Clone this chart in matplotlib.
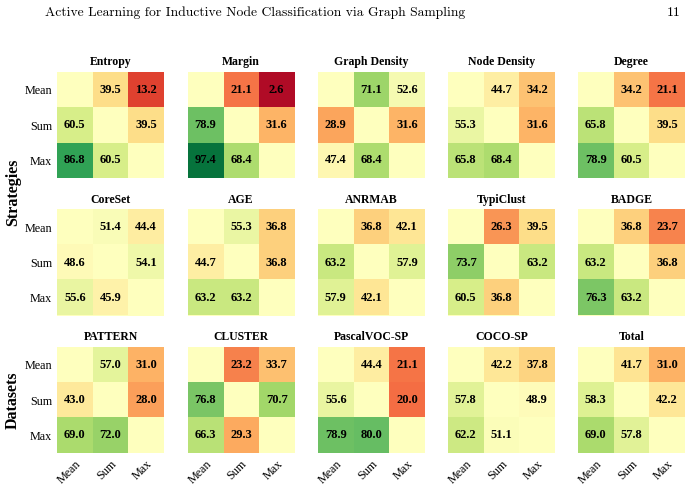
import numpy as np
import matplotlib
matplotlib.use("Agg")
import matplotlib.pyplot as plt

nan = np.nan
labels = ["Mean", "Sum", "Max"]

titles = [
    "Entropy", "Margin", "Graph Density", "Node Density", "Degree",
    "CoreSet", "AGE", "ANRMAB", "TypiClust", "BADGE",
    "PATTERN", "CLUSTER", "PascalVOC-SP", "COCO-SP", "Total",
]

entropy = [[nan, 39.5, 13.2], [60.5, nan, 39.5], [86.8, 60.5, nan]]
margin = [[nan, 21.1, 2.6], [78.9, nan, 31.6], [97.4, 68.4, nan]]
graph_density = [[nan, 71.1, 52.6], [28.9, nan, 31.6], [47.4, 68.4, nan]]
node_density = [[nan, 44.7, 34.2], [55.3, nan, 31.6], [65.8, 68.4, nan]]
degree = [[nan, 34.2, 21.1], [65.8, nan, 39.5], [78.9, 60.5, nan]]
coreset = [[nan, 51.4, 44.4], [48.6, nan, 54.1], [55.6, 45.9, nan]]
age = [[nan, 55.3, 36.8], [44.7, nan, 36.8], [63.2, 63.2, nan]]
anrmab = [[nan, 36.8, 42.1], [63.2, nan, 57.9], [57.9, 42.1, nan]]
typiclust = [[nan, 26.3, 39.5], [73.7, nan, 63.2], [60.5, 36.8, nan]]
badge = [[nan, 36.8, 23.7], [63.2, nan, 36.8], [76.3, 63.2, nan]]
pattern = [[nan, 57.0, 31.0], [43.0, nan, 28.0], [69.0, 72.0, nan]]
cluster = [[nan, 23.2, 33.7], [76.8, nan, 70.7], [66.3, 29.3, nan]]
pascalvoc = [[nan, 44.4, 21.1], [55.6, nan, 20.0], [78.9, 80.0, nan]]
coco = [[nan, 42.2, 37.8], [57.8, nan, 48.9], [62.2, 51.1, nan]]
total = [[nan, 41.7, 31.0], [58.3, nan, 42.2], [69.0, 57.8, nan]]

mats = [entropy, margin, graph_density, node_density, degree,
        coreset, age, anrmab, typiclust, badge,
        pattern, cluster, pascalvoc, coco, total]

W, H = 696, 486
fig = plt.figure(figsize=(W / 100, H / 100), dpi=100)
cmap = plt.get_cmap("RdYlGn")
serif = ["Liberation Serif", "DejaVu Serif"]

col_x = [57, 187.5, 318, 448, 578]
row_y = [72, 209.5, 347]
cw, ch = 107, 106

for k, (name, m) in enumerate(zip(titles, mats)):
    r, c = divmod(k, 5)
    ax = fig.add_axes([col_x[c] / W, 1 - (row_y[r] + ch) / H, cw / W, ch / H])
    m = np.array(m)
    # diagonal cells are left empty -> neutral colour of the map
    ax.set_facecolor(cmap(0.5))
    ax.imshow(m, cmap=cmap, vmin=0, vmax=100, aspect="auto")
    for i in range(3):
        for j in range(3):
            if not np.isnan(m[i, j]):
                ax.text(j, i, f"{m[i, j]:.1f}", ha="center", va="center",
                        fontsize=9, fontweight="bold", family=serif)
    ax.set_title(name, fontsize=8.5, fontweight="bold", family=serif, pad=5)
    for s in ax.spines.values():
        s.set_visible(False)
    ax.tick_params(length=0)
    if c == 0:
        ax.set_yticks(range(3))
        ax.set_yticklabels(labels, fontsize=8.7, family=serif)
    else:
        ax.set_yticks([])
    if r == 2:
        ax.set_xticks(range(3))
        ax.set_xticklabels(labels, fontsize=8.7, family=serif, rotation=45,
                           ha="right", rotation_mode="anchor")
    else:
        ax.set_xticks([])

fig.text(13 / W, 1 - 192 / H, "Strategies", rotation=90, ha="center", va="center",
         fontsize=11.5, fontweight="bold", family=serif)
fig.text(13 / W, 1 - 400 / H, "Datasets", rotation=90, ha="center", va="center",
         fontsize=11.5, fontweight="bold", family=serif)

fig.text(45 / W, 1 - 13 / H, "Active Learning for Inductive Node Classification via Graph Sampling",
         ha="left", va="center", fontsize=9.8, family=["cmr10", "DejaVu Serif"])
fig.text(681 / W, 1 - 13 / H, "11", ha="right", va="center", fontsize=9.8,
         family=["cmr10", "DejaVu Serif"])

fig.savefig("out.png", dpi=100)
